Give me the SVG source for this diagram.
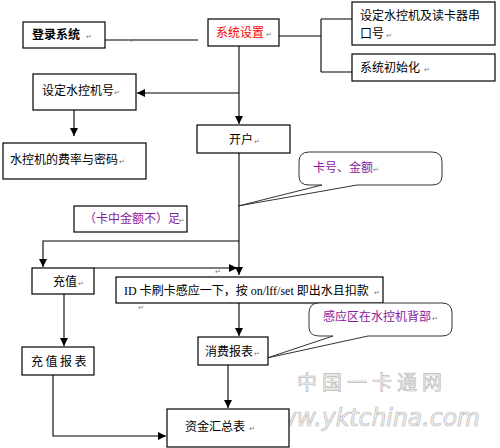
<svg xmlns="http://www.w3.org/2000/svg" width="500" height="448" viewBox="0 0 500 448">
<defs>
<marker id="ah" viewBox="0 0 10 10" refX="10" refY="5" markerWidth="8" markerHeight="8" markerUnits="userSpaceOnUse" orient="auto">
<path d="M0,0 L10,5 L0,10 Z" fill="#000"/>
</marker>
<style>
.box{fill:#fff;stroke:#000;stroke-width:1.2}
.ln{fill:none;stroke:#000;stroke-width:1.1}
.t{font-family:"Liberation Serif","Noto Sans CJK SC",serif;font-size:12px;fill:#000}
.cj{font-family:"Noto Sans CJK SC","Noto Sans CJK TC",sans-serif;font-size:12px;fill:#000}
.rm{font-family:"DejaVu Sans",sans-serif;font-size:7px;fill:#777}
.call{fill:#fff;stroke:#333;stroke-width:1}
.wm{font-family:"DejaVu Sans","Noto Sans CJK SC",sans-serif;fill:#f2f2f2;stroke:#bdbdbd;stroke-width:0.7}
</style>
</defs>
<rect width="500" height="448" fill="#fff"/>

<g id="watermark">
<text class="wm" x="297" y="390" font-size="20" letter-spacing="5">中国一卡通网</text>
<text class="wm" x="258" y="426" font-size="24" font-style="italic" textLength="222" lengthAdjust="spacingAndGlyphs">www.yktchina.com</text>
</g>

<g id="connectors">
<path class="ln" d="M105,40 H198"/>
<path class="ln" d="M279,36 H321 M321,19 V72 M321,19 H352 M321,72 H352"/>
<path class="ln" d="M239,46 V124" marker-end="url(#ah)"/>
<path class="ln" d="M239,93 H137" marker-end="url(#ah)"/>
<path class="ln" d="M74,110 V136" marker-end="url(#ah)"/>
<path class="ln" d="M239,153 V275" marker-end="url(#ah)"/>
<path class="ln" d="M239,241 H43 V267" marker-end="url(#ah)"/>
<path class="ln" d="M94,268 H237" marker-end="url(#ah)"/>
<path class="ln" d="M239,303 V336" marker-end="url(#ah)"/>
<path class="ln" d="M228,365 V408" marker-end="url(#ah)"/>
<path class="ln" d="M64,294 V346" marker-end="url(#ah)"/>
<path class="ln" d="M53,375 V436 H166" marker-end="url(#ah)"/>
</g>

<g id="login">
<rect class="box" x="23" y="22" width="82" height="26"/>
<text class="cj" x="32" y="39" font-size="13" font-weight="bold">登录系统</text>
<text class="rm" x="86" y="39">↵</text>
</g>

<g id="sysset">
<rect class="box" x="208" y="19" width="71" height="27"/>
<text class="cj" x="216" y="37" style="fill:#f00">系统设置</text>
<text class="rm" x="266" y="37">↵</text>
</g>

<g id="setport">
<rect class="box" x="352" y="2" width="143" height="43"/>
<text class="cj" x="360" y="20" font-size="12.5">设定水控机及读卡器串</text>
<text class="cj" x="360" y="38" font-size="12.5">口号</text>
<text class="rm" x="386" y="38">↵</text>
</g>

<g id="sysinit">
<rect class="box" x="352" y="54" width="143" height="27"/>
<text class="cj" x="360" y="72" font-size="12.5">系统初始化</text>
<text class="rm" x="424" y="72">↵</text>
</g>

<g id="setno">
<rect class="box" x="33" y="74" width="103" height="36"/>
<text class="cj" x="42" y="95" font-size="11.7">设定水控机号</text>
<text class="rm" x="114" y="95">↵</text>
</g>

<g id="rate">
<rect class="box" x="3" y="143" width="143" height="36"/>
<text class="cj" x="10" y="164">水控机的费率与密码</text>
<text class="rm" x="119" y="164">↵</text>
</g>

<g id="open">
<rect class="box" x="197" y="125" width="93" height="28"/>
<text class="cj" x="229" y="144" font-size="11.5">开户</text>
<text class="rm" x="254" y="144">↵</text>
</g>

<g id="insufficient">
<rect class="box" x="74" y="206" width="113" height="26"/>
<text class="cj" x="84" y="223" font-size="11.5" style="fill:#8a1a9c">（卡中金额不）足</text>
<text class="rm" x="178.5" y="223">↵</text>
</g>

<g id="callout1">
<path class="call" d="M309,152 H432 Q442,152 442,162 V176 Q442,185 432,185 H357 L238,206 L322,185 H309 Q299,185 299,176 V162 Q299,152 309,152 Z"/>
<text class="cj" x="313" y="172" style="fill:#8a1a9c">卡号、金额</text>
<text class="rm" x="373" y="172">↵</text>
</g>

<g id="recharge">
<rect class="box" x="32" y="268" width="62" height="26"/>
<text class="cj" x="53" y="286">充值</text>
<text class="rm" x="78" y="286">↵</text>
</g>

<g id="swipe">
<rect class="box" x="116" y="277" width="267" height="26"/>
<text class="t" x="124" y="295">ID 卡刷卡感应一下，按 on/lff/set 即出水且扣款</text>
<text class="rm" x="374" y="295">↵</text>
</g>

<g id="marks">
<text class="rm" x="215" y="274">↵</text>
<text class="rm" x="138" y="310">↵</text>
<text class="rm" x="130" y="43">↵</text>
</g>

<g id="callout2">
<path class="call" d="M319,303 H442 Q452,303 452,313 V327 Q452,336 442,336 H368 L267,358 L333,336 H319 Q309,336 309,327 V313 Q309,303 319,303 Z"/>
<text class="cj" x="323" y="321" style="fill:#8a1a9c">感应区在水控机背部</text>
<text class="rm" x="432" y="321">↵</text>
</g>

<g id="consume">
<rect class="box" x="198" y="337" width="70" height="28"/>
<text class="cj" x="205" y="356">消费报表</text>
<text class="rm" x="254" y="356">↵</text>
</g>

<g id="rechargereport">
<rect class="box" x="22" y="347" width="72" height="28"/>
<text class="cj" x="31" y="366" letter-spacing="2.5">充值报表</text>
</g>

<g id="summary">
<rect class="box" x="167" y="409" width="122" height="38"/>
<text class="cj" x="185" y="431" font-size="12.4">资金汇总表</text>
<text class="rm" x="249" y="431">↵</text>
</g>
</svg>
